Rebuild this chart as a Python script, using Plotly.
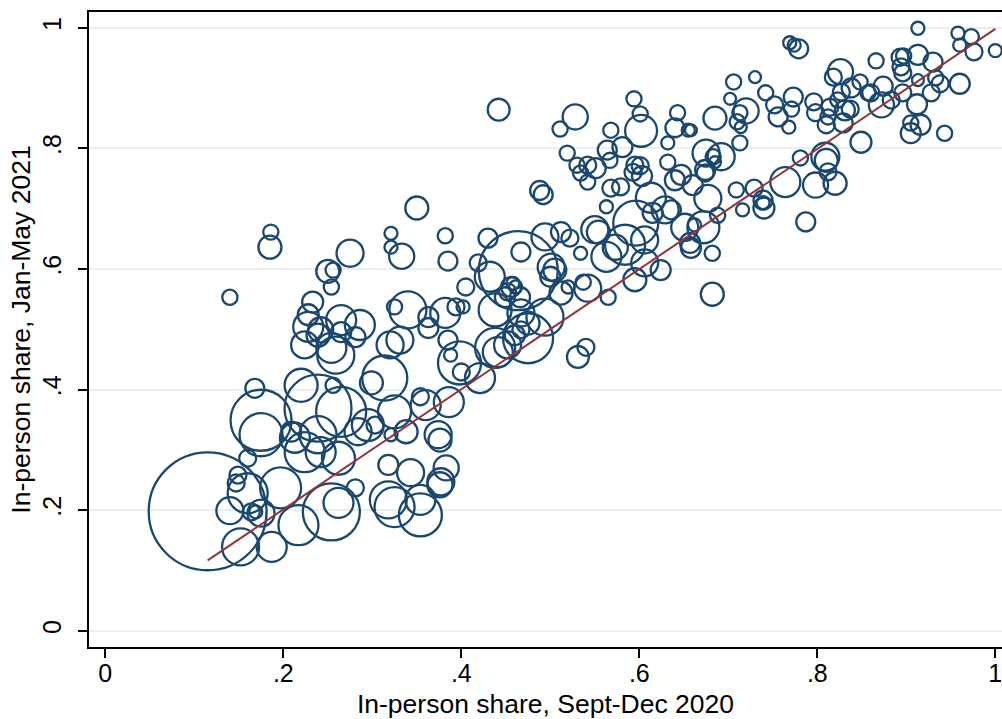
import plotly.graph_objects as go

# In-person instruction shares by district: fall term (x) vs spring term (y),
# bubble area proportional to enrollment (thousands of students).
share_fall = [
    0.913, 0.958, 0.973, 0.960, 0.976, 1.000, 0.769, 0.774, 0.779, 0.866,
    0.893, 0.897, 0.913, 0.930, 0.894, 0.896, 0.913, 0.933, 0.938, 0.960,
    0.928, 0.883, 0.874, 0.860, 0.872, 0.896, 0.912, 0.905, 0.916, 0.905,
    0.943, 0.826, 0.818, 0.848, 0.838, 0.827, 0.857, 0.796, 0.798, 0.812,
    0.814, 0.831, 0.823, 0.837, 0.810, 0.829, 0.849, 0.809, 0.810, 0.781,
    0.706, 0.730, 0.742, 0.702, 0.720, 0.713, 0.710, 0.714, 0.752, 0.756,
    0.773, 0.771, 0.768, 0.685, 0.658, 0.713, 0.675, 0.683, 0.692, 0.685,
    0.674, 0.764, 0.798, 0.820, 0.812, 0.709, 0.729, 0.739, 0.739, 0.740,
    0.716, 0.688, 0.677, 0.660, 0.674, 0.672, 0.662, 0.658, 0.682, 0.787,
    0.682, 0.442, 0.528, 0.511, 0.594, 0.601, 0.602, 0.568, 0.643, 0.640,
    0.655, 0.632, 0.519, 0.564, 0.581, 0.567, 0.530, 0.542, 0.551, 0.595,
    0.601, 0.632, 0.647, 0.350, 0.488, 0.492, 0.382, 0.385, 0.430, 0.467,
    0.534, 0.464, 0.501, 0.505, 0.500, 0.512, 0.522, 0.494, 0.550, 0.554,
    0.573, 0.563, 0.596, 0.584, 0.606, 0.606, 0.624, 0.640, 0.629, 0.636,
    0.651, 0.657, 0.579, 0.568, 0.542, 0.534, 0.563, 0.613, 0.615, 0.542,
    0.537, 0.565, 0.595, 0.405, 0.419, 0.432, 0.456, 0.458, 0.461, 0.452,
    0.449, 0.466, 0.494, 0.467, 0.475, 0.438, 0.382, 0.394, 0.402, 0.340,
    0.325, 0.363, 0.520, 0.512, 0.186, 0.185, 0.140, 0.275, 0.250, 0.256,
    0.254, 0.233, 0.228, 0.265, 0.286, 0.321, 0.321, 0.333, 0.242, 0.228,
    0.224, 0.239, 0.265, 0.281, 0.254, 0.259, 0.320, 0.168, 0.256, 0.299,
    0.220, 0.239, 0.175, 0.265, 0.295, 0.303, 0.284, 0.175, 0.213, 0.209,
    0.239, 0.224, 0.242, 0.262, 0.160, 0.149, 0.314, 0.115, 0.152, 0.187,
    0.217, 0.254, 0.262, 0.281, 0.164, 0.169, 0.175, 0.140, 0.160, 0.197,
    0.147, 0.318, 0.354, 0.354, 0.376, 0.325, 0.331, 0.363, 0.385, 0.388,
    0.398, 0.400, 0.421, 0.438, 0.441, 0.452, 0.475, 0.460, 0.467, 0.540,
    0.531, 0.354, 0.360, 0.386, 0.325, 0.338, 0.374, 0.376, 0.321, 0.343,
    0.383, 0.377, 0.318, 0.593, 0.603,
]

share_spring = [
    0.999, 0.991, 0.985, 0.971, 0.960, 0.962, 0.975, 0.971, 0.965, 0.945,
    0.951, 0.953, 0.955, 0.943, 0.935, 0.925, 0.913, 0.917, 0.907, 0.907,
    0.892, 0.880, 0.903, 0.892, 0.872, 0.892, 0.873, 0.842, 0.839, 0.825,
    0.825, 0.927, 0.918, 0.910, 0.900, 0.893, 0.892, 0.877, 0.859, 0.852,
    0.868, 0.863, 0.880, 0.865, 0.839, 0.842, 0.810, 0.786, 0.780, 0.784,
    0.910, 0.918, 0.892, 0.882, 0.862, 0.859, 0.844, 0.835, 0.872, 0.852,
    0.885, 0.865, 0.835, 0.850, 0.830, 0.809, 0.792, 0.786, 0.786, 0.777,
    0.764, 0.744, 0.739, 0.742, 0.761, 0.731, 0.734, 0.714, 0.710, 0.701,
    0.698, 0.689, 0.717, 0.739, 0.759, 0.669, 0.673, 0.635, 0.626, 0.678,
    0.558, 0.864, 0.852, 0.832, 0.882, 0.857, 0.829, 0.830, 0.859, 0.834,
    0.830, 0.809, 0.792, 0.797, 0.802, 0.780, 0.772, 0.772, 0.767, 0.772,
    0.771, 0.777, 0.756, 0.701, 0.730, 0.723, 0.655, 0.613, 0.651, 0.628,
    0.626, 0.597, 0.603, 0.598, 0.587, 0.661, 0.651, 0.653, 0.665, 0.661,
    0.636, 0.620, 0.676, 0.640, 0.648, 0.610, 0.598, 0.747, 0.698, 0.698,
    0.669, 0.643, 0.736, 0.734, 0.744, 0.759, 0.703, 0.718, 0.693, 0.568,
    0.578, 0.553, 0.582, 0.570, 0.610, 0.587, 0.570, 0.576, 0.570, 0.562,
    0.553, 0.553, 0.520, 0.527, 0.510, 0.532, 0.527, 0.537, 0.537, 0.532,
    0.537, 0.520, 0.570, 0.560, 0.661, 0.636, 0.553, 0.626, 0.596, 0.598,
    0.570, 0.545, 0.524, 0.515, 0.507, 0.659, 0.636, 0.621, 0.499, 0.504,
    0.474, 0.490, 0.495, 0.487, 0.469, 0.457, 0.474, 0.402, 0.407, 0.411,
    0.407, 0.369, 0.349, 0.363, 0.341, 0.341, 0.330, 0.325, 0.320, 0.330,
    0.325, 0.296, 0.296, 0.286, 0.286, 0.258, 0.419, 0.198, 0.139, 0.139,
    0.175, 0.197, 0.212, 0.237, 0.197, 0.197, 0.195, 0.199, 0.228, 0.237,
    0.245, 0.217, 0.192, 0.217, 0.242, 0.205, 0.482, 0.502, 0.482, 0.457,
    0.444, 0.429, 0.419, 0.469, 0.462, 0.474, 0.485, 0.490, 0.499, 0.470,
    0.454, 0.388, 0.374, 0.379, 0.363, 0.330, 0.325, 0.316, 0.325, 0.262,
    0.270, 0.247, 0.275, 0.760, 0.754,
]

enrollment = [
    1.7, 1.7, 2.3, 1.7, 2.9, 1.7, 1.7, 1.7, 3.6, 2.3,
    2.9, 2.3, 4.0, 3.6, 2.9, 2.9, 1.4, 2.3, 2.9, 4.0,
    2.9, 2.9, 3.6, 2.9, 6.3, 2.9, 4.0, 2.3, 4.0, 4.0,
    2.3, 6.3, 2.9, 2.3, 3.6, 2.9, 2.3, 2.9, 2.9, 2.3,
    2.9, 4.0, 2.3, 2.9, 2.9, 3.6, 4.4, 7.8, 5.3, 2.3,
    2.3, 1.4, 2.3, 1.4, 6.3, 2.3, 2.3, 1.4, 2.9, 3.6,
    3.6, 2.3, 1.7, 5.3, 1.4, 2.3, 7.3, 2.3, 7.3, 1.4,
    4.0, 9.0, 6.3, 5.3, 2.9, 2.3, 2.9, 3.6, 1.7, 4.4,
    1.7, 2.3, 7.3, 4.0, 2.9, 10.2, 1.7, 4.0, 2.3, 3.6,
    5.3, 4.8, 6.3, 2.3, 2.3, 2.3, 10.2, 2.3, 2.3, 3.6,
    1.7, 1.7, 2.3, 3.6, 4.0, 2.3, 2.3, 2.9, 4.0, 2.9,
    2.9, 2.3, 4.0, 5.3, 3.6, 3.6, 2.3, 3.6, 3.6, 3.6,
    1.7, 62.4, 7.3, 5.3, 4.0, 4.0, 2.9, 7.3, 7.3, 5.3,
    6.3, 9.0, 20.3, 16.0, 7.3, 7.3, 4.0, 4.0, 7.3, 3.6,
    7.3, 4.0, 2.9, 2.9, 2.3, 2.3, 1.7, 9.0, 4.0, 7.3,
    2.3, 2.3, 5.3, 2.9, 2.9, 9.0, 4.0, 1.7, 1.7, 2.9,
    4.0, 4.0, 13.7, 7.3, 5.3, 10.9, 9.0, 2.9, 1.7, 13.7,
    2.3, 4.0, 1.7, 5.3, 2.3, 5.3, 2.3, 7.3, 5.3, 2.3,
    2.3, 4.4, 4.4, 9.0, 9.0, 1.7, 1.7, 6.3, 6.3, 9.0,
    7.3, 5.3, 4.0, 4.0, 9.0, 13.7, 7.3, 3.6, 2.3, 5.3,
    10.9, 44.9, 37.2, 25.0, 10.2, 2.9, 7.3, 18.5, 9.0, 4.0,
    13.7, 16.0, 9.0, 10.9, 2.9, 2.9, 20.3, 139.0, 13.7, 9.0,
    16.0, 32.5, 9.0, 2.9, 2.9, 1.7, 7.3, 7.3, 16.0, 16.8,
    2.9, 13.7, 18.5, 9.0, 6.3, 16.0, 7.3, 4.0, 3.6, 1.7,
    18.5, 2.9, 9.0, 16.0, 9.0, 7.3, 25.0, 4.0, 2.9, 2.9,
    4.8, 2.9, 9.0, 9.0, 10.9, 5.3, 7.3, 5.3, 1.7, 7.3,
    6.3, 7.3, 4.0, 2.9, 4.0,
]

# Weighted linear fit of spring share on fall share
FIT_INTERCEPT = 0.002
FIT_SLOPE = 0.996

tick_vals = [0, 0.2, 0.4, 0.6, 0.8, 1]
tick_text = ["0", ".2", ".4", ".6", ".8", "1"]

NAVY = "#1a476f"
MAROON = "#90353b"
FONT = "Liberation Sans, Arial, sans-serif"

fig = go.Figure()

fig.add_trace(go.Scatter(
    x=share_fall,
    y=share_spring,
    mode="markers",
    marker=dict(
        symbol="circle-open",
        size=enrollment,
        sizemode="area",
        sizeref=0.02,
        color=NAVY,
        opacity=1,
        line=dict(width=2.3, color=NAVY),
    ),
    hoverinfo="skip",
    showlegend=False,
))

x_lo, x_hi = min(share_fall), max(share_fall)
fig.add_trace(go.Scatter(
    x=[x_lo, x_hi],
    y=[FIT_INTERCEPT + FIT_SLOPE * x_lo, FIT_INTERCEPT + FIT_SLOPE * x_hi],
    mode="lines",
    line=dict(color=MAROON, width=2),
    hoverinfo="skip",
    showlegend=False,
))

fig.update_layout(
    width=1002,
    height=719,
    margin=dict(l=89, r=0, t=12, b=72),
    paper_bgcolor="white",
    plot_bgcolor="white",
    font=dict(family=FONT, size=25, color="black"),
    showlegend=False,
)

fig.update_xaxes(
    range=[-0.0183, 1.0075],
    tickvals=tick_vals,
    ticktext=tick_text,
    ticks="outside",
    ticklen=9,
    tickwidth=1.5,
    tickcolor="black",
    ticklabeloverflow="allow",
    ticklabelstandoff=-6,
    showgrid=False,
    zeroline=False,
    showline=True,
    linecolor="black",
    linewidth=2,
    mirror=True,
    tickfont=dict(size=25),
    title=dict(text="In-person share, Sept-Dec 2020", font=dict(size=26.5), standoff=8),
)

fig.update_yaxes(
    range=[-0.027, 1.026],
    tickvals=tick_vals,
    ticktext=tick_text,
    ticks="outside",
    ticklen=9,
    tickwidth=1.5,
    tickcolor="black",
    tickangle=-90,
    ticklabelstandoff=7,
    showgrid=True,
    gridcolor="#e8eff1",
    gridwidth=2,
    zeroline=False,
    showline=True,
    linecolor="black",
    linewidth=2,
    mirror=False,
    tickfont=dict(size=25),
    title=dict(text="In-person share, Jan-May 2021", font=dict(size=26.5), standoff=0),
)

fig.write_html("out.html")
